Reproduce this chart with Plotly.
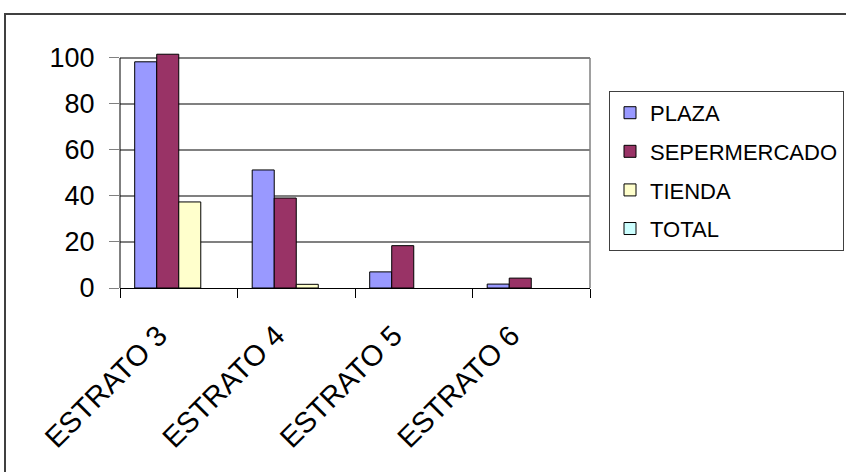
import plotly.graph_objects as go

# Purchase channel counts by socioeconomic stratum
categories = ["ESTRATO 3", "ESTRATO 4", "ESTRATO 5", "ESTRATO 6"]
plaza = [98.3, 51.3, 7.0, 1.7]
supermercado = [101.6, 39.1, 18.4, 4.3]
tienda = [37.4, 1.6, None, None]
total = [None, None, None, None]

series_names = ["PLAZA", "SEPERMERCADO", "TIENDA", "TOTAL"]
series_values = [plaza, supermercado, tienda, total]
series_colors = ["#9999FF", "#993366", "#FFFFCC", "#CCFFFF"]

y_ticks = [0, 20, 40, 60, 80, 100]
y_max_tick = 100
y_range_top = 103  # headroom so the tallest bar can rise past the 100 line

FONT = "Liberation Sans, Arial, sans-serif"

fig = go.Figure()
for i, (name, vals, col) in enumerate(zip(series_names, series_values, series_colors)):
    fig.add_trace(go.Bar(
        x=categories, y=vals, name=name,
        marker=dict(color=col, line=dict(color="#000000", width=1)),
        legendgroup=f"g{i}",
        hoverinfo="x+y+name",
    ))

# plot area geometry (pixels in an 846x472 canvas)
W, H = 846, 472
L, R, B = 120, 590, 288
px_per_unit = 2.3
T = B - y_range_top * px_per_unit
pw, ph = R - L, B - T

def px_x(x):
    return (x - L) / pw

def px_y(y):
    return (B - y) / ph

fig.update_layout(
    width=W, height=H,
    margin=dict(l=L, r=W - R, t=T, b=H - B, autoexpand=False),
    paper_bgcolor="white", plot_bgcolor="rgba(0,0,0,0)",
    font=dict(family=FONT, color="#000000"),
    barmode="group", bargap=0.25, bargroupgap=0,
    showlegend=True,
    legend=dict(
        x=px_x(609), y=px_y(91), xanchor="left", yanchor="top",
        bordercolor="#404040", borderwidth=1, bgcolor="white",
        font=dict(family=FONT, size=22, color="#000000"),
        tracegroupgap=7, traceorder="grouped",
    ),
    xaxis=dict(
        type="category", showline=True, linecolor="#000000", linewidth=1,
        ticks="outside", tickson="boundaries", ticklen=9, tickcolor="#000000",
        tickangle=-45, tickfont=dict(family=FONT, size=29),
        ticklabelstandoff=18, ticklabelshift=-20,
        showgrid=False, zeroline=False,
    ),
    yaxis=dict(
        range=[0, y_range_top], tickvals=y_ticks, showline=False,
        ticks="outside", ticklen=10, tickcolor="#808080",
        ticklabelstandoff=9,
        showgrid=True, gridcolor="#808080", gridwidth=1.5, zeroline=False,
        tickfont=dict(family=FONT, size=27),
    ),
    shapes=[
        # value axis line, spanning the labelled range only
        dict(type="line", xref="x domain", yref="y", x0=0, x1=0,
             y0=0, y1=y_max_tick, line=dict(color="#000000", width=1),
             layer="above"),
        # right border of the plotting area
        dict(type="line", xref="x domain", yref="y", x0=1, x1=1,
             y0=0, y1=y_max_tick, line=dict(color="#808080", width=1.5),
             layer="below"),
        # outer chart frame
        dict(type="rect", xref="paper", yref="paper",
             x0=px_x(5), x1=px_x(W + 20), y0=px_y(H + 20), y1=px_y(14),
             line=dict(color="#404040", width=2), layer="below"),
    ],
)

fig.write_html("out.html")
